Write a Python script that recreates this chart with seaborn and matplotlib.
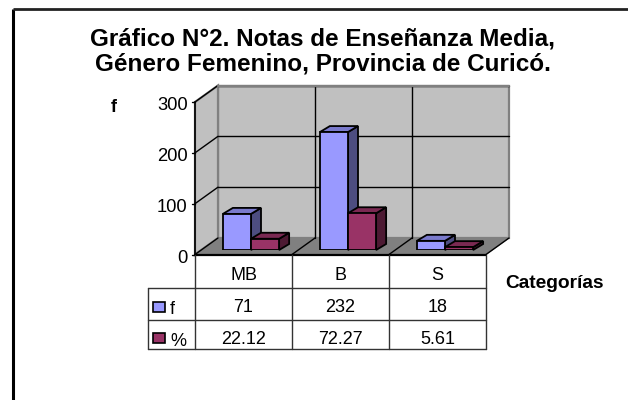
import matplotlib
matplotlib.use("Agg")
import matplotlib.pyplot as plt
from matplotlib.patches import Polygon
import pandas as pd
import seaborn as sns

categories = ["MB", "B", "S"]
f_values = [71, 232, 18]
pct_values = [22.12, 72.27, 5.61]
pct_labels = ["22.12", "72.27", "5.61"]
series_names = ["f", "%"]
title_lines = "Gráfico N°2. Notas de Enseñanza Media,\nGénero Femenino, Provincia de Curicó."
y_ticks = [0, 100, 200, 300]

BLUE, BLUE_TOP, BLUE_SIDE = "#9999FF", "#7A7ACC", "#4D4D80"
RED, RED_TOP, RED_SIDE = "#993366", "#7A2952", "#4D1A33"
WALL, FLOOR, WALL_EDGE = "#C0C0C0", "#808080", "#808080"
FONT = "Liberation Sans"

W, H = 628, 400
sns.set_theme(style="white")
plt.rcParams["font.family"] = [FONT, "DejaVu Sans"]
fig = plt.figure(figsize=(W / 100, H / 100), dpi=100, facecolor="white")

# pixel-space backdrop: frame, walls, data table
bg = fig.add_axes([0, 0, 1, 1], zorder=0)
bg.set_xlim(0, W); bg.set_ylim(H, 0); bg.axis("off")

X0, X1, Y0, Y300 = 195, 486, 254.5, 102
DX, DY = 23, -16.5
PX_PER_UNIT = (Y0 - Y300) / 300

bg.plot([13, 13], [H, 8.5], color="black", lw=2.2, solid_capstyle="butt")
bg.plot([13, W], [8.5, 8.5], color="#222222", lw=2.0, solid_capstyle="butt")

bg.add_patch(Polygon([(X0 + DX, Y0 + DY), (X1 + DX, Y0 + DY), (X1 + DX, Y300 + DY), (X0 + DX, Y300 + DY)],
                     fc=WALL, ec=WALL_EDGE, lw=1.6))
bg.add_patch(Polygon([(X0, Y0), (X0 + DX, Y0 + DY), (X0 + DX, Y300 + DY), (X0, Y300)],
                     fc=WALL, ec=WALL_EDGE, lw=1.6))
bg.add_patch(Polygon([(X0, Y0), (X1, Y0), (X1 + DX, Y0 + DY), (X0 + DX, Y0 + DY)],
                     fc=FLOOR, ec=FLOOR, lw=0.8))

step = (X1 - X0) / len(categories)
for t in y_ticks:
    yy = Y0 - t * PX_PER_UNIT
    if t:
        bg.plot([X0 + DX, X1 + DX], [yy + DY, yy + DY], color="black", lw=1.0)
    bg.plot([X0, X0 + DX], [yy, yy + DY], color="black", lw=1.0)
    bg.plot([X0 - 3, X0], [yy, yy], color="black", lw=1.0)
    bg.text(X0 - 7.5, yy + 4, str(t), ha="right", va="center", fontsize=13.2, color="black")
for i in range(1, len(categories)):
    xx = X0 + i * step
    bg.plot([xx + DX, xx + DX], [Y0 + DY, Y300 + DY], color="black", lw=1.0)
    bg.plot([xx, xx + DX], [Y0, Y0 + DY], color="black", lw=1.0)
bg.plot([X0 + DX, X1 + DX], [Y300 + DY, Y300 + DY], color=WALL_EDGE, lw=1.6)
bg.plot([X0, X0], [Y300, Y0], color="black", lw=1.2)
bg.plot([X0, X1], [Y0, Y0], color="black", lw=1.6)
bg.plot([X1, X1 + DX], [Y0, Y0 + DY], color="black", lw=1.0)

# bars, drawn by seaborn on a transparent axes whose scale matches the backdrop
BASE_PX, SHIFT_PX = 250, 7.5
ax = fig.add_axes([(X0 + SHIFT_PX) / W, (H - BASE_PX) / H, (X1 - X0) / W, 300 * PX_PER_UNIT / H], zorder=2)
ax.patch.set_alpha(0)
data = pd.DataFrame({
    "cat": categories * 2,
    "value": f_values + [v for v in pct_values],
    "serie": [series_names[0]] * 3 + [series_names[1]] * 3,
})
sns.barplot(data=data, x="cat", y="value", hue="serie", order=categories, hue_order=series_names,
            palette=[BLUE, RED], width=0.58, gap=0, saturation=1, legend=False, ax=ax,
            edgecolor="black", linewidth=1.3)
ax.set_xlim(-0.5, 2.5); ax.set_ylim(0, 300)
ax.axis("off")

BAR_DX, BAR_DY = 10, -6
ux = BAR_DX / step
uy = -BAR_DY / PX_PER_UNIT
for patch in ax.patches:
    if patch.get_width() == 0:
        continue
    is_blue = matplotlib.colors.same_color(patch.get_facecolor(), BLUE)
    top_c, side_c = (BLUE_TOP, BLUE_SIDE) if is_blue else (RED_TOP, RED_SIDE)
    x, w, h = patch.get_x(), patch.get_width(), patch.get_height()
    patch.set_zorder(5)
    z = 2 if is_blue else 3
    ax.add_patch(Polygon([(x + w, 0), (x + w + ux, uy), (x + w + ux, h + uy), (x + w, h)],
                         fc=side_c, ec="black", lw=1.3, zorder=z, clip_on=False))
    ax.add_patch(Polygon([(x, h), (x + ux, h + uy), (x + w + ux, h + uy), (x + w, h)],
                         fc=top_c, ec="black", lw=1.3, zorder=z, clip_on=False))

# data table
T_TOP, R1, R2, R3, T_LEFT = Y0, 287.5, 319.5, 349, 148
TC = "#333333"
for i in range(len(categories) + 1):
    bg.plot([X0 + i * step] * 2, [T_TOP, R3], color=TC, lw=1.0)
for yy in (R1, R2, R3):
    bg.plot([T_LEFT, X1], [yy, yy], color=TC, lw=1.0)
bg.plot([T_LEFT, T_LEFT], [R1, R3], color=TC, lw=1.0)
for i, c in enumerate(categories):
    cx = X0 + (i + 0.5) * step
    bg.text(cx, 275, c, ha="center", va="center", fontsize=13, color="black")
    bg.text(cx, 308, str(f_values[i]), ha="center", va="center", fontsize=13, color="black")
    bg.text(cx, 339.5, pct_labels[i], ha="center", va="center", fontsize=13, color="black")
for yy, col, name, ty in ((306.5, BLUE, series_names[0], 310), (338, RED, series_names[1], 341)):
    bg.add_patch(Polygon([(153, yy - 5), (165, yy - 5), (165, yy + 5), (153, yy + 5)], fc=col, ec="black", lw=1.2))
    bg.text(170, ty, name, ha="left", va="center", fontsize=13, color="black")

bg.text(322.5, 51.5, title_lines, ha="center", va="center", fontsize=17.5, fontweight="bold",
        color="black", linespacing=1.12)
bg.text(114, 107, "f", ha="center", va="center", fontsize=13, fontweight="bold", color="black")
bg.text(554, 284, "Categorías", ha="center", va="center", fontsize=13.8, fontweight="bold", color="black")

fig.savefig("out.png", dpi=100, facecolor="white")
